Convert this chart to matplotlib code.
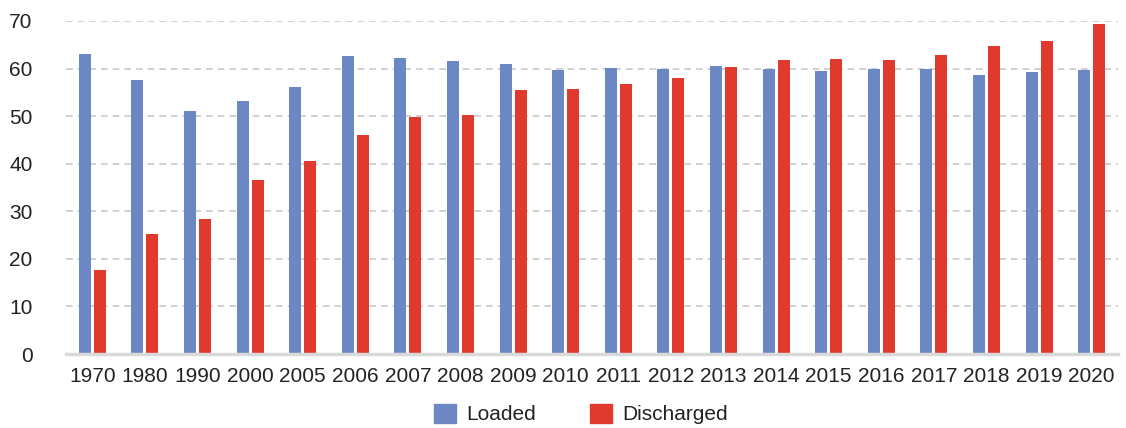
import numpy as np
import matplotlib
matplotlib.use("Agg")
import matplotlib.pyplot as plt
from matplotlib.patches import Patch

plt.rcParams['font.family'] = ['Liberation Sans Narrow', 'Liberation Sans', 'DejaVu Sans']

# data
years = ['1970', '1980', '1990', '2000', '2005', '2006', '2007', '2008', '2009', '2010',
         '2011', '2012', '2013', '2014', '2015', '2016', '2017', '2018', '2019', '2020']
loaded = [63.1, 57.5, 51.0, 53.1, 56.2, 62.6, 62.3, 61.6, 61.0, 59.7,
          60.1, 59.9, 60.6, 59.9, 59.4, 59.9, 59.9, 58.6, 59.2, 59.6]
discharged = [17.6, 25.2, 28.4, 36.6, 40.5, 46.0, 49.9, 50.3, 55.6, 55.8,
              56.8, 58.0, 60.3, 61.9, 62.0, 61.9, 62.9, 64.8, 65.7, 69.4]

blue = '#6b88c4'
red = '#e03a2f'

fig = plt.figure(figsize=(11.26, 4.28), dpi=100)
ax = fig.add_axes([66/1126, 1 - 354/428, 1052/1126, 333/428])

x = np.arange(len(years))
w = 0.23
ax.bar(x - 0.143, loaded, w, color=blue, zorder=3)
ax.bar(x + 0.143, discharged, w, color=red, zorder=3)

ax.set_xlim(-0.5, len(years) - 0.5)
ax.set_ylim(0, 70)
ax.set_yticks(range(0, 71, 10))
ax.set_xticks(x)
ax.set_xticklabels(years)

for v in range(10, 71, 10):
    ax.axhline(v, color='#c8c8c8', lw=1.2, ls=(0, (4, 3)), zorder=1)
ax.axhline(0, color='#d9d9d9', lw=2.5, zorder=4, clip_on=False)

for s in ['top', 'right', 'left', 'bottom']:
    ax.spines[s].set_visible(False)
ax.tick_params(axis='both', length=0, labelsize=15, colors='#222222')
ax.tick_params(axis='y', pad=24)
ax.tick_params(axis='x', pad=9)

handles = [Patch(color=blue, label='Loaded'), Patch(color=red, label='Discharged')]
fig.legend(handles=handles, loc='center', bbox_to_anchor=(0.516, 1 - 414/428), ncol=2,
           frameon=False, fontsize=15, handlelength=1.05, handleheight=1.05,
           handletextpad=0.5, columnspacing=2.6, labelcolor='#222222',
           borderpad=0, borderaxespad=0)

fig.savefig('out.png', dpi=100)
